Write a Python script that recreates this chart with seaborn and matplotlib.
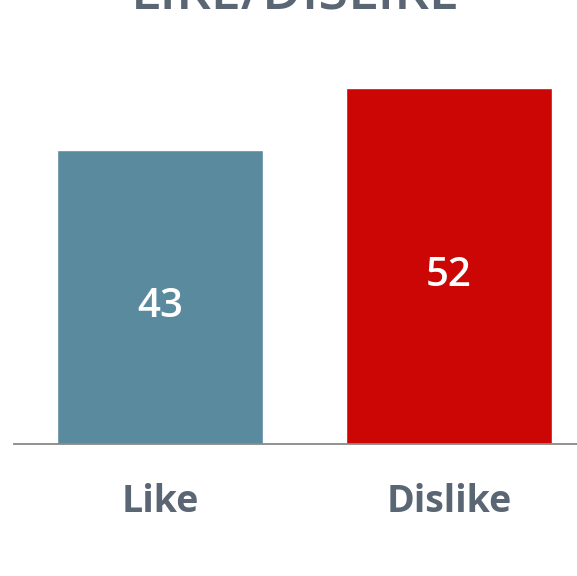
import matplotlib
matplotlib.use("Agg")
import matplotlib.pyplot as plt
import seaborn as sns
import pandas as pd

categories = ["Like", "Dislike"]
values = [43, 52]
colors = ["#5a8a9e", "#cc0505"]
title = "LIKE/DISLIKE"

sns.set_theme(style="white")
plt.rcParams['font.family'] = ['Open Sans', 'DejaVu Sans']

W, H = 577, 576
fig = plt.figure(figsize=(W / 100, H / 100), dpi=100)
left_px, base_px = 14, 444
ax = fig.add_axes([left_px / W, (H - base_px) / H, 1 - left_px / W, base_px / H])

df = pd.DataFrame({"cat": categories, "val": values})
sns.barplot(data=df, x="cat", y="val", hue="cat", palette=colors, legend=False,
            width=0.71, saturation=1, ax=ax)

px_per_unit = 294 / 43
ax.set_ylim(0, base_px / px_per_unit)
ax.set_xlim(-0.505, 1.443)

for i, v in enumerate(values):
    ax.text(i, v / 2 - 1.4, str(v), ha="center", va="center", color="white",
            fontsize=29, fontweight="semibold")

for s in ["top", "right", "left"]:
    ax.spines[s].set_visible(False)
ax.spines["bottom"].set_color("#888888")
ax.spines["bottom"].set_linewidth(1.3)
ax.set_yticks([])
ax.set_xlabel("")
ax.set_ylabel("")
ax.tick_params(axis="x", length=0, pad=28, labelsize=27, labelcolor="#5a6673")
for lab in ax.get_xticklabels():
    lab.set_fontweight("bold")

fig.text((left_px + (W - left_px) / 2) / W, 1 - 10 / H, title, ha="center", va="baseline",
         fontsize=39, fontweight="semibold", color="#5a6673")

fig.savefig("out.png", dpi=100)
